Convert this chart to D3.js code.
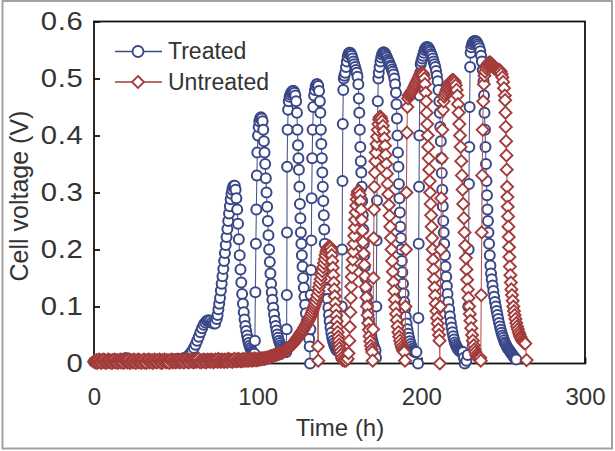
<!DOCTYPE html>
<html><head><meta charset="utf-8">
<script src="https://cdn.jsdelivr.net/npm/d3@7"></script>
<style>html,body{margin:0;padding:0;background:#fff;} svg{display:block;}</style>
</head><body>
<svg id="chart" width="615" height="451"></svg>
<script>
const xTicks = [0, 100, 200, 300];
const yTicks = [0, 0.1, 0.2, 0.3, 0.4, 0.5, 0.6];
const seriesNames = ["Treated", "Untreated"];
const axisTitles = {x: "Time (h)", y: "Cell voltage (V)"};

// Treated: [time (h), cell voltage (V)]
const treated = [
[0,.003],[1,.003],[2,.004],[3,.003],[4,.004],[5,.003],[6,.004],[7,.004],[8,.003],[9,.004],[10,.004],[11,.003],[12,.004],[13,.005],[14,.004],[15,.004],[16,.005],[17,.006],[18,.008],[19,.009],[20,.009],[21,.008],[22,.006],[23,.004],[24,.003],[25,.003],[26,.002],[27,.002],[28,.002],[29,.002],[30,.002],[31,.002],[32,.002],[33,.003],[34,.003],[35,.003],[36,.003],[37,.004],[38,.004],[39,.005],[40,.005],[41,.005],[42,.006],[43,.006],[44,.006],[45,.006],[46,.006],[47,.006],[48,.006],[49,.007],[50,.007],[51,.007],[52,.007],[53,.008],[54,.008],[55,.009],[56,.01],[57,.012],
[58,.014],[59,.018],[60,.022],[61,.027],[62,.033],[63,.04],[64,.047],[65,.055],[66,.062],[67,.068],[68,.072],[69,.075],[70,.076],[71,.075],[72,.072],[73,.07],[74,.07],[75,.078],[75.5,.085],[76,.095],[76.5,.105],[77,.115],[77.5,.128],[78,.14],[78.5,.153],[79,.166],[79.5,.18],[80,.194],[80.5,.208],[81,.222],[81.5,.236],[82,.25],[82.5,.263],[83,.276],[83.5,.288],[84,.298],[84.5,.305],[85,.31],[85.5,.312],[86,.312],[86.5,.305],[87,.29],[87.5,.27],[88,.245],[88.5,.218],[89,.19],[89.5,.165],[90,.142],[90.5,.122],[91,.105],[91.5,.09],[92,.077],[92.5,.066],[93,.057],[93.5,.049],[94,.042],[94.5,.036],[95,.031],[95.5,.027],[96,.024],[96.5,.021],[97,.019],[97.5,.018],[98,.017],
[98.3,.04],[98.6,.125],[98.9,.21],[99.2,.27],[99.5,.33],[99.8,.37],[100.2,.40],[100.6,.415],[101,.425],[101.5,.43],[102,.432],[102.5,.43],[103,.425],[103.4,.41],[103.8,.39],[104.2,.37],[104.6,.35],[105,.325],[105.4,.30],[105.8,.275],[106.2,.25],[106.6,.225],[107,.20],[107.4,.178],[107.8,.158],[108.2,.14],[108.6,.125],[109,.112],[109.5,.098],[110,.086],[110.5,.075],[111,.066],[111.5,.058],[112,.051],[112.5,.045],[113,.04],[113.5,.036],[114,.032],[114.5,.029],[115,.026],[115.5,.024],[116,.022],[116.5,.021],[117,.02],[117.5,.02],
[117.7,.06],[117.8,.12],[117.9,.23],[118,.345],[118.3,.41],[118.6,.445],[119,.46],[119.5,.468],[120,.472],[120.5,.475],[121,.477],[121.5,.478],[122,.478],[122.5,.475],[123,.47],[123.5,.46],[124,.44],[124.3,.41],[124.6,.383],[124.9,.36],[125.2,.34],[125.5,.31],[125.8,.28],[126.1,.255],[126.4,.23],[126.7,.21],[127,.19],[127.4,.17],[127.8,.15],[128.2,.133],[128.6,.117],[129,.103],[129.5,.088],[130,.074],[130.5,.062],[131,.052],[131.5,.043],[131.8,.03],
[132,.0],[132.2,.06],[132.4,.12],[132.6,.164],[132.8,.216],[133,.29],[133.3,.36],[133.6,.41],[134,.45],[134.5,.47],[135,.48],[135.5,.487],[136,.49],[136.5,.49],[137,.487],[137.5,.478],[138,.46],[138.3,.44],[138.6,.41],[138.9,.385],[139.2,.36],[139.5,.335],[139.8,.31],[140.1,.285],[140.4,.26],[140.7,.235],[141,.21],[141.3,.19],[141.6,.17],[142,.15],[142.4,.13],[142.8,.113],[143.2,.098],[143.6,.085],[144,.074],[144.5,.063],[145,.054],[145.5,.046],[146,.04],[146.5,.035],[147,.031],[147.5,.028],[148,.025],[148.5,.023],[149,.022],[149.5,.021],[150,.02],[150.5,.02],[151,.02],
[151.2,.01],[151.4,.1],[151.6,.2],[151.8,.32],[152,.42],[152.3,.48],[152.6,.50],[153,.505],[153.5,.51],[154,.52],[154.5,.53],[155,.538],[155.5,.543],[156,.545],[156.5,.545],[157,.543],[157.5,.54],[158,.535],[158.5,.53],[159,.525],[159.5,.52],[160,.515],[160.5,.51],[161,.503],[161.5,.49],[161.8,.465],[162.1,.44],[162.4,.41],[162.7,.38],[163,.355],[163.3,.335],[163.6,.31],[163.9,.285],[164.2,.26],[164.5,.235],[164.8,.21],[165.1,.19],[165.5,.17],[165.9,.15],[166.3,.132],[166.7,.116],[167.1,.102],[167.5,.09],[168,.077],[168.5,.066],[169,.056],[169.5,.048],[170,.041],[170.5,.035],[171,.03],[171.5,.026],[172,.023],
[172.3,.01],[172.5,.1],[172.7,.216],[172.9,.286],[173.1,.38],[173.4,.46],[173.7,.50],[174,.51],[174.5,.52],[175,.53],[175.5,.537],[176,.542],[176.5,.545],[177,.546],[177.5,.545],[178,.543],[178.5,.54],[179,.537],[179.5,.533],[180,.53],[180.5,.527],[181,.523],[181.5,.52],[182,.516],[182.5,.512],[183,.507],[183.5,.50],[184,.49],[184.5,.475],[184.8,.455],[185.1,.43],[185.4,.40],[185.7,.37],[186,.345],[186.3,.315],[186.6,.29],[186.9,.265],[187.2,.24],[187.5,.22],[187.8,.2],[188.1,.18],[188.4,.16],[188.8,.14],[189.2,.123],[189.6,.108],[190,.095],[190.5,.082],[191,.07],[191.5,.06],[192,.052],[192.5,.045],[193,.039],[193.5,.034],[194,.03],[194.5,.026],[195,.023],[195.5,.021],[196,.02],[196.5,.02],[197,.02],
[198,.0],[198.2,.08],[198.4,.21],[198.6,.31],[198.8,.40],[199,.47],[199.3,.51],[199.6,.525],[200,.53],[200.5,.535],[201,.54],[201.5,.545],[202,.55],[202.5,.553],[203,.555],[203.5,.555],[204,.555],[204.5,.553],[205,.55],[205.5,.547],[206,.543],[206.5,.54],[207,.535],[207.5,.53],[208,.525],[208.5,.52],[209,.513],[209.5,.505],[210,.495],[210.5,.48],[211,.46],[211.3,.44],[211.6,.415],[211.9,.39],[212.2,.36],[212.5,.334],[212.8,.305],[213.1,.276],[213.4,.25],[213.7,.23],[214,.21],[214.4,.19],[214.8,.17],[215.2,.152],[215.6,.136],[216,.122],[216.5,.108],[217,.095],[217.5,.083],[218,.072],[218.5,.063],[219,.055],[219.5,.048],[220,.042],[220.5,.037],[221,.033],[221.5,.03],[222,.027],[222.5,.025],[223,.023],[223.5,.022],[224,.021],[224.5,.02],[225,.02],[225.5,.02],[226,.01],[226.5,.0],[227.5,.005],[228.3,.015],
[228.7,.1],[228.9,.2],[229.1,.315],[229.3,.38],[229.5,.45],[229.8,.52],[230.1,.545],[230.5,.555],[231,.56],[231.5,.563],[232,.565],[232.5,.566],[233,.566],[233.5,.565],[234,.563],[234.5,.56],[235,.557],[235.5,.553],[236,.548],[236.5,.54],[237,.53],[237.5,.515],[238,.495],[238.3,.47],[238.6,.44],[238.9,.41],[239.2,.38],[239.5,.35],[239.8,.32],[240.1,.295],[240.4,.27],[240.7,.25],[241,.23],[241.4,.21],[241.8,.19],[242.2,.172],[242.6,.158],[243,.148],[243.5,.137],[244,.127],[244.5,.117],[245,.108],[245.5,.1],[246,.092],[246.5,.085],[247,.078],[247.5,.071],[248,.065],[248.5,.059],[249,.054],[249.5,.049],[250,.045],[250.5,.041],[251,.037],[251.5,.034],[252,.031],[252.5,.028],[253,.026],[253.5,.024],[254,.022],[254.5,.02],[255,.018],[255.5,.016],[256,.014],[256.5,.012],[257,.01],[257.5,.008],[258,.007]
];

// Untreated: [time (h), cell voltage (V)]
const untreated = [
[0,.003],[.5,.005],[1,.002],[1.5,.006],[2,.001],[2.5,.004],[3,.007],[3.5,.003],[4,.005],[4.5,.001],[5,.006],[5.5,.003],[6,.007],[6.5,.002],[7,.005],[7.5,.001],[8,.004],[8.5,.007],[9,.003],[9.5,.006],
[10,.002],[10.5,.005],[11,.001],[11.5,.006],[12,.003],[12.5,.007],[13,.002],[13.5,.004],[14,.006],[14.5,.001],[15,.005],[15.5,.003],[16,.007],[16.5,.002],[17,.006],[17.5,.004],[18,.001],[18.5,.005],[19,.007],[19.5,.003],
[20,.006],[20.5,.002],[21,.004],[21.5,.007],[22,.001],[22.5,.005],[23,.003],[23.5,.006],[24,.002],[24.5,.007],[25,.004],[25.5,.001],[26,.005],[26.5,.003],[27,.007],[27.5,.002],[28,.006],[28.5,.004],[29,.001],[29.5,.005],
[30,.003],[30.5,.007],[31,.002],[31.5,.005],[32,.001],[32.5,.006],[33,.004],[33.5,.007],[34,.002],[34.5,.005],[35,.003],[35.5,.006],[36,.001],[36.5,.004],[37,.007],[37.5,.003],[38,.005],[38.5,.002],[39,.006],[39.5,.004],
[40,.007],[40.5,.002],[41,.005],[41.5,.001],[42,.006],[42.5,.003],[43,.007],[43.5,.004],[44,.002],[44.5,.006],[45,.003],[45.5,.005],[46,.001],[46.5,.006],[47,.004],[47.5,.007],[48,.002],[48.5,.005],[49,.003],[49.5,.006],
[50,.002],[50.5,.005],[51,.007],[51.5,.003],[52,.006],[52.5,.002],[53,.004],[53.5,.007],[54,.003],[54.5,.005],[55,.002],[55.5,.006],[56,.004],[56.5,.007],[57,.003],[57.5,.005],[58,.002],[58.5,.006],[59,.004],[59.5,.007],
[60,.003],[60.5,.006],[61,.002],[61.5,.005],[62,.007],[62.5,.003],[63,.006],[63.5,.004],[64,.008],[64.5,.003],[65,.005],[65.5,.002],[66,.006],[66.5,.004],[67,.007],[67.5,.003],[68,.006],[68.5,.002],[69,.005],[69.5,.007],
[70,.004],[70.5,.006],[71,.003],[71.5,.007],[72,.004],[72.5,.006],[73,.002],[73.5,.005],[74,.007],[74.5,.004],[75,.006],[75.5,.003],[76,.008],[76.5,.004],[77,.006],[77.5,.003],[78,.007],[78.5,.004],[79,.006],[79.5,.003],
[80,.007],[80.5,.004],[81,.006],[81.5,.003],[82,.008],[82.5,.005],[83,.007],[83.5,.004],[84,.006],[84.5,.003],[85,.007],[85.5,.005],[86,.008],[86.5,.004],[87,.006],[87.5,.004],[88,.008],[88.5,.005],[89,.007],[89.5,.004],
[90,.006],[90.5,.004],[91,.008],[91.5,.005],[92,.007],[92.5,.005],[93,.008],[93.5,.005],[94,.007],[94.5,.005],[95,.008],[95.5,.006],[96,.008],[96.5,.005],[97,.007],[97.5,.006],[98,.009],[98.5,.006],[99,.008],[99.5,.006],
[100,.006],[100.5,.008],[101,.007],[101.5,.009],[102,.007],[102.5,.009],[103,.008],[103.5,.009],[104,.008],[104.5,.01],[105,.009],[105.5,.01],[106,.01],[106.5,.011],[107,.011],[107.5,.012],[108,.012],[108.5,.013],[109,.013],[109.5,.014],
[110,.014],[110.5,.015],[111,.015],[111.5,.016],[112,.016],[112.5,.017],[113,.017],[113.5,.018],[114,.018],[114.5,.019],[115,.019],[115.5,.02],[116,.021],[116.5,.022],[117,.023],[117.5,.024],[118,.025],[118.5,.026],[119,.027],[119.5,.029],
[120,.03],[120.5,.032],[121,.033],[121.5,.035],[122,.036],[122.5,.038],[123,.04],[123.5,.042],[124,.044],[124.5,.046],[125,.048],[125.5,.05],[126,.052],[126.5,.054],[127,.056],[127.5,.058],[128,.06],[128.5,.063],[129,.065],[129.5,.068],
[130,.07],[130.5,.073],[131,.075],[131.5,.078],[132,.081],[132.5,.084],[133,.088],[133.5,.092],[134,.096],[134.5,.1],[135,.104],[135.5,.108],[136,.114],[136.5,.12],[136.8,.03],[137,.005],[137.2,.127],[137.5,.134],[138,.141],[138.5,.148],[139,.155],[139.5,.162],[140,.169],[140.5,.176],[141,.183],[141.5,.19],[142,.196],[142.5,.2],[143,.203],[143.5,.205],[144,.205],[144.5,.203],[145,.198],[145.3,.19],[145.6,.18],[145.9,.168],[146.2,.155],[146.5,.142],[146.8,.13],[147.1,.118],[147.4,.106],[147.7,.095],[148,.084],[148.3,.074],[148.6,.064],[148.9,.055],[149.2,.047],[149.5,.04],[149.8,.033],[150.1,.027],[150.5,.021],[151,.015],[151.5,.01],[152,.006],[153,.005],[154,.005],[155,.008],
[155.5,.018],[156,.04],[156.3,.064],[156.6,.09],[156.9,.115],[157.2,.135],[157.5,.152],[157.8,.168],[158.1,.182],[158.4,.196],[158.7,.21],[159,.224],[159.3,.238],[159.6,.252],[159.9,.265],[160.2,.277],[160.5,.288],[160.8,.296],[161.2,.301],[161.6,.303],[162,.302],[162.4,.296],[162.8,.285],[163.2,.27],[163.6,.252],[164,.233],[164.4,.213],[164.8,.193],[165.2,.173],[165.6,.153],[166,.134],[166.4,.116],[166.8,.1],[167.2,.085],[167.6,.071],[168,.059],[168.4,.048],[168.8,.039],[169.2,.031],[169.6,.025],[170,.02],[170.3,.005],
[170.5,.06],[170.7,.15],[170.9,.22],[171.1,.27],[171.3,.31],[171.6,.335],[171.9,.355],[172.2,.37],[172.6,.385],[173,.398],[173.4,.41],[173.8,.42],[174.2,.428],[174.6,.432],[175,.433],[175.5,.43],[176,.425],[176.5,.417],[177,.407],[177.4,.395],[177.8,.382],[178.2,.366],[178.6,.35],[179,.333],[179.4,.315],[179.8,.297],[180.2,.278],[180.6,.259],[181,.24],[181.4,.22],[181.8,.2],[182.2,.18],[182.6,.161],[183,.143],[183.4,.127],[183.8,.112],[184.2,.099],[184.6,.087],[185,.076],[185.5,.065],[186,.055],[186.5,.047],[187,.04],[187.5,.034],[188,.029],[188.5,.025],[189,.022],[189.5,.02],[190,.005],
[190.3,.1],[190.6,.2],[190.9,.3],[191.2,.405],[191.5,.45],[191.9,.465],[192.3,.47],[192.8,.472],[193.3,.474],[193.8,.476],[194.3,.478],[194.8,.48],[195.3,.483],[195.8,.486],[196.3,.489],[196.8,.492],[197.3,.495],[197.8,.498],[198.3,.501],[198.8,.504],[199.3,.507],[199.8,.509],[200.3,.51],[200.8,.509],[201.3,.506],[201.8,.5],[202.2,.49],[202.6,.475],[203,.46],[203.3,.44],[203.6,.42],[203.9,.4],[204.2,.38],[204.5,.36],[204.8,.34],[205.1,.32],[205.4,.3],[205.7,.28],[206,.26],[206.3,.24],[206.6,.22],[206.9,.2],[207.2,.182],[207.5,.165],[207.8,.148],[208.1,.133],[208.4,.119],[208.8,.105],[209.2,.092],[209.6,.08],[210,.07],[210.4,.06],[210.8,.05],[211.1,.04],
[211.3,.0],[211.6,.1],[211.9,.2],[212.2,.29],[212.5,.36],[212.8,.41],[213.2,.445],[213.6,.46],[214,.468],[214.5,.472],[215,.476],[215.5,.48],[216,.483],[216.5,.486],[217,.489],[217.5,.492],[218,.494],[218.5,.496],[219,.497],[219.5,.497],[220,.496],[220.5,.493],[221,.488],[221.5,.48],[222,.47],[222.4,.455],[222.8,.44],[223.2,.42],[223.6,.4],[224,.38],[224.4,.355],[224.8,.33],[225.2,.305],[225.6,.28],[226,.255],[226.4,.23],[226.8,.207],[227.2,.185],[227.6,.165],[228,.147],[228.4,.13],[228.8,.115],[229.2,.1],[229.6,.087],[230,.075],[230.5,.062],[231,.05],[231.5,.04],[232,.032],[232.5,.025],[233,.02],[233.5,.015],[234,.012],[234.5,.01],[235,.01],[235.5,.01],[236,.01],[236.3,.005],
[236.6,.12],[236.9,.23],[237.2,.33],[237.5,.41],[237.8,.46],[238.2,.49],[238.6,.505],[239,.512],[239.5,.518],[240,.522],[240.5,.525],[241,.527],[241.5,.528],[242,.528],[242.5,.527],[243,.525],[243.5,.523],[244,.521],[244.5,.519],[245,.517],[245.5,.516],[246,.515],[246.5,.515],[247,.515],[247.5,.515],[248,.514],[248.5,.512],[249,.508],[249.5,.502],[250,.494],[250.5,.483],[251,.47],[251.2,.462],[251.4,.44],[251.6,.415],[251.8,.39],[252,.365],[252.2,.34],[252.4,.31],[252.6,.292],[252.8,.275],[253,.258],[253.2,.24],[253.4,.222],[253.6,.204],[253.8,.187],[254.1,.17],[254.4,.155],[254.7,.142],[255,.13],[255.4,.12],[255.8,.11],[256.2,.1],[256.6,.092],[257,.085],[257.5,.078],[258,.071],[258.5,.065],[259,.06],[259.5,.055],[260,.051],[260.5,.047],[261,.044],[261.5,.041],[262,.039],[262.5,.037],[263,.036],[263.5,.035],[264.3,.006]
];

const blue = "#3a4787", blueLine = "#4b5891";
const red = "#a33b3b", redLine = "#b4595a";
const FONT = "'Liberation Sans', Arial, Helvetica, sans-serif";

const svg = d3.select("#chart");
svg.append("rect").attr("x",0).attr("y",0).attr("width",615).attr("height",451).attr("fill","#fff");
// outer figure border
svg.append("rect").attr("x",2.5).attr("y",1).attr("width",609.5).attr("height",447.5)
  .attr("fill","none").attr("stroke","#a2a2a2").attr("stroke-width",2);

const x = d3.scaleLinear().domain([0,300]).range([94,585]);
const y = d3.scaleLinear().domain([0,0.6]).range([363.5,21.5]);

// plot frame
svg.append("rect").attr("x",x(0)).attr("y",y(0.6)).attr("width",x(300)-x(0)).attr("height",y(0)-y(0.6))
  .attr("fill","none").attr("stroke","#111").attr("stroke-width",1.8);

const yAxis = svg.append("g").attr("transform",`translate(${x(0)},0)`)
  .call(d3.axisLeft(y).tickValues(yTicks).tickSize(-6).tickPadding(9)
    .tickFormat(d => d === 0 ? "0" : d3.format(".1f")(d)));
const xAxis = svg.append("g").attr("transform",`translate(0,${y(0)})`)
  .call(d3.axisBottom(x).tickValues(xTicks).tickSize(-6).tickPadding(24).tickFormat(d3.format("d")));
[yAxis, xAxis].forEach(g => {
  g.select(".domain").remove();
  g.selectAll(".tick line").attr("stroke","#111").attr("stroke-width",1.8);
  g.selectAll(".tick text").attr("fill","#333").style("font-family",FONT).style("font-size","24px");
});
yAxis.selectAll(".tick text").style("font-size","25px").attr("transform","scale(1.17,1)").style("letter-spacing","0.6px");

// axis titles
svg.append("text").attr("x",340).attr("y",436).attr("text-anchor","middle")
  .attr("fill","#333").style("font-family",FONT).style("font-size","24px").text(axisTitles.x);
svg.append("text").attr("transform","translate(28,196) rotate(-90)").attr("text-anchor","middle")
  .attr("fill","#333").style("font-family",FONT).style("font-size","25px").text(axisTitles.y);

const line = d3.line().x(d => x(d[0])).y(d => y(d[1]));
const diamond = "M0,-6L6,0L0,6L-6,0Z";

function drawSeries(data, kind) {
  const g = svg.append("g");
  g.append("path").datum(data).attr("d", line).attr("fill","none")
    .attr("stroke", kind === "circle" ? blueLine : redLine).attr("stroke-width",1.1);
  if (kind === "circle") {
    g.selectAll("circle").data(data).join("circle")
      .attr("cx", d => x(d[0])).attr("cy", d => y(d[1])).attr("r",5)
      .attr("fill","#fff").attr("stroke",blue).attr("stroke-width",2);
  } else {
    g.selectAll("path.m").data(data).join("path").attr("class","m")
      .attr("transform", d => `translate(${x(d[0])},${y(d[1])})`).attr("d",diamond)
      .attr("fill","#fff").attr("stroke",red).attr("stroke-width",1.9);
  }
}
drawSeries(treated, "circle");
drawSeries(untreated, "diamond");

// legend
const lg = svg.append("g");
const legendRows = [{name: seriesNames[0], y: 51.5, kind: "circle"}, {name: seriesNames[1], y: 82, kind: "diamond"}];
legendRows.forEach(r => {
  lg.append("line").attr("x1",115).attr("x2",162).attr("y1",r.y).attr("y2",r.y)
    .attr("stroke", r.kind === "circle" ? blue : red).attr("stroke-width",1.6);
  if (r.kind === "circle") {
    lg.append("circle").attr("cx",138).attr("cy",r.y).attr("r",5.5).attr("fill","#fff").attr("stroke",blue).attr("stroke-width",1.8);
  } else {
    lg.append("path").attr("transform",`translate(138,${r.y})`).attr("d",diamond).attr("fill","#fff").attr("stroke",red).attr("stroke-width",1.8);
  }
  lg.append("text").attr("x",168).attr("y",r.y + 7.5).attr("fill","#333")
    .style("font-family",FONT).style("font-size","23px").text(r.name);
});
</script>
</body></html>
